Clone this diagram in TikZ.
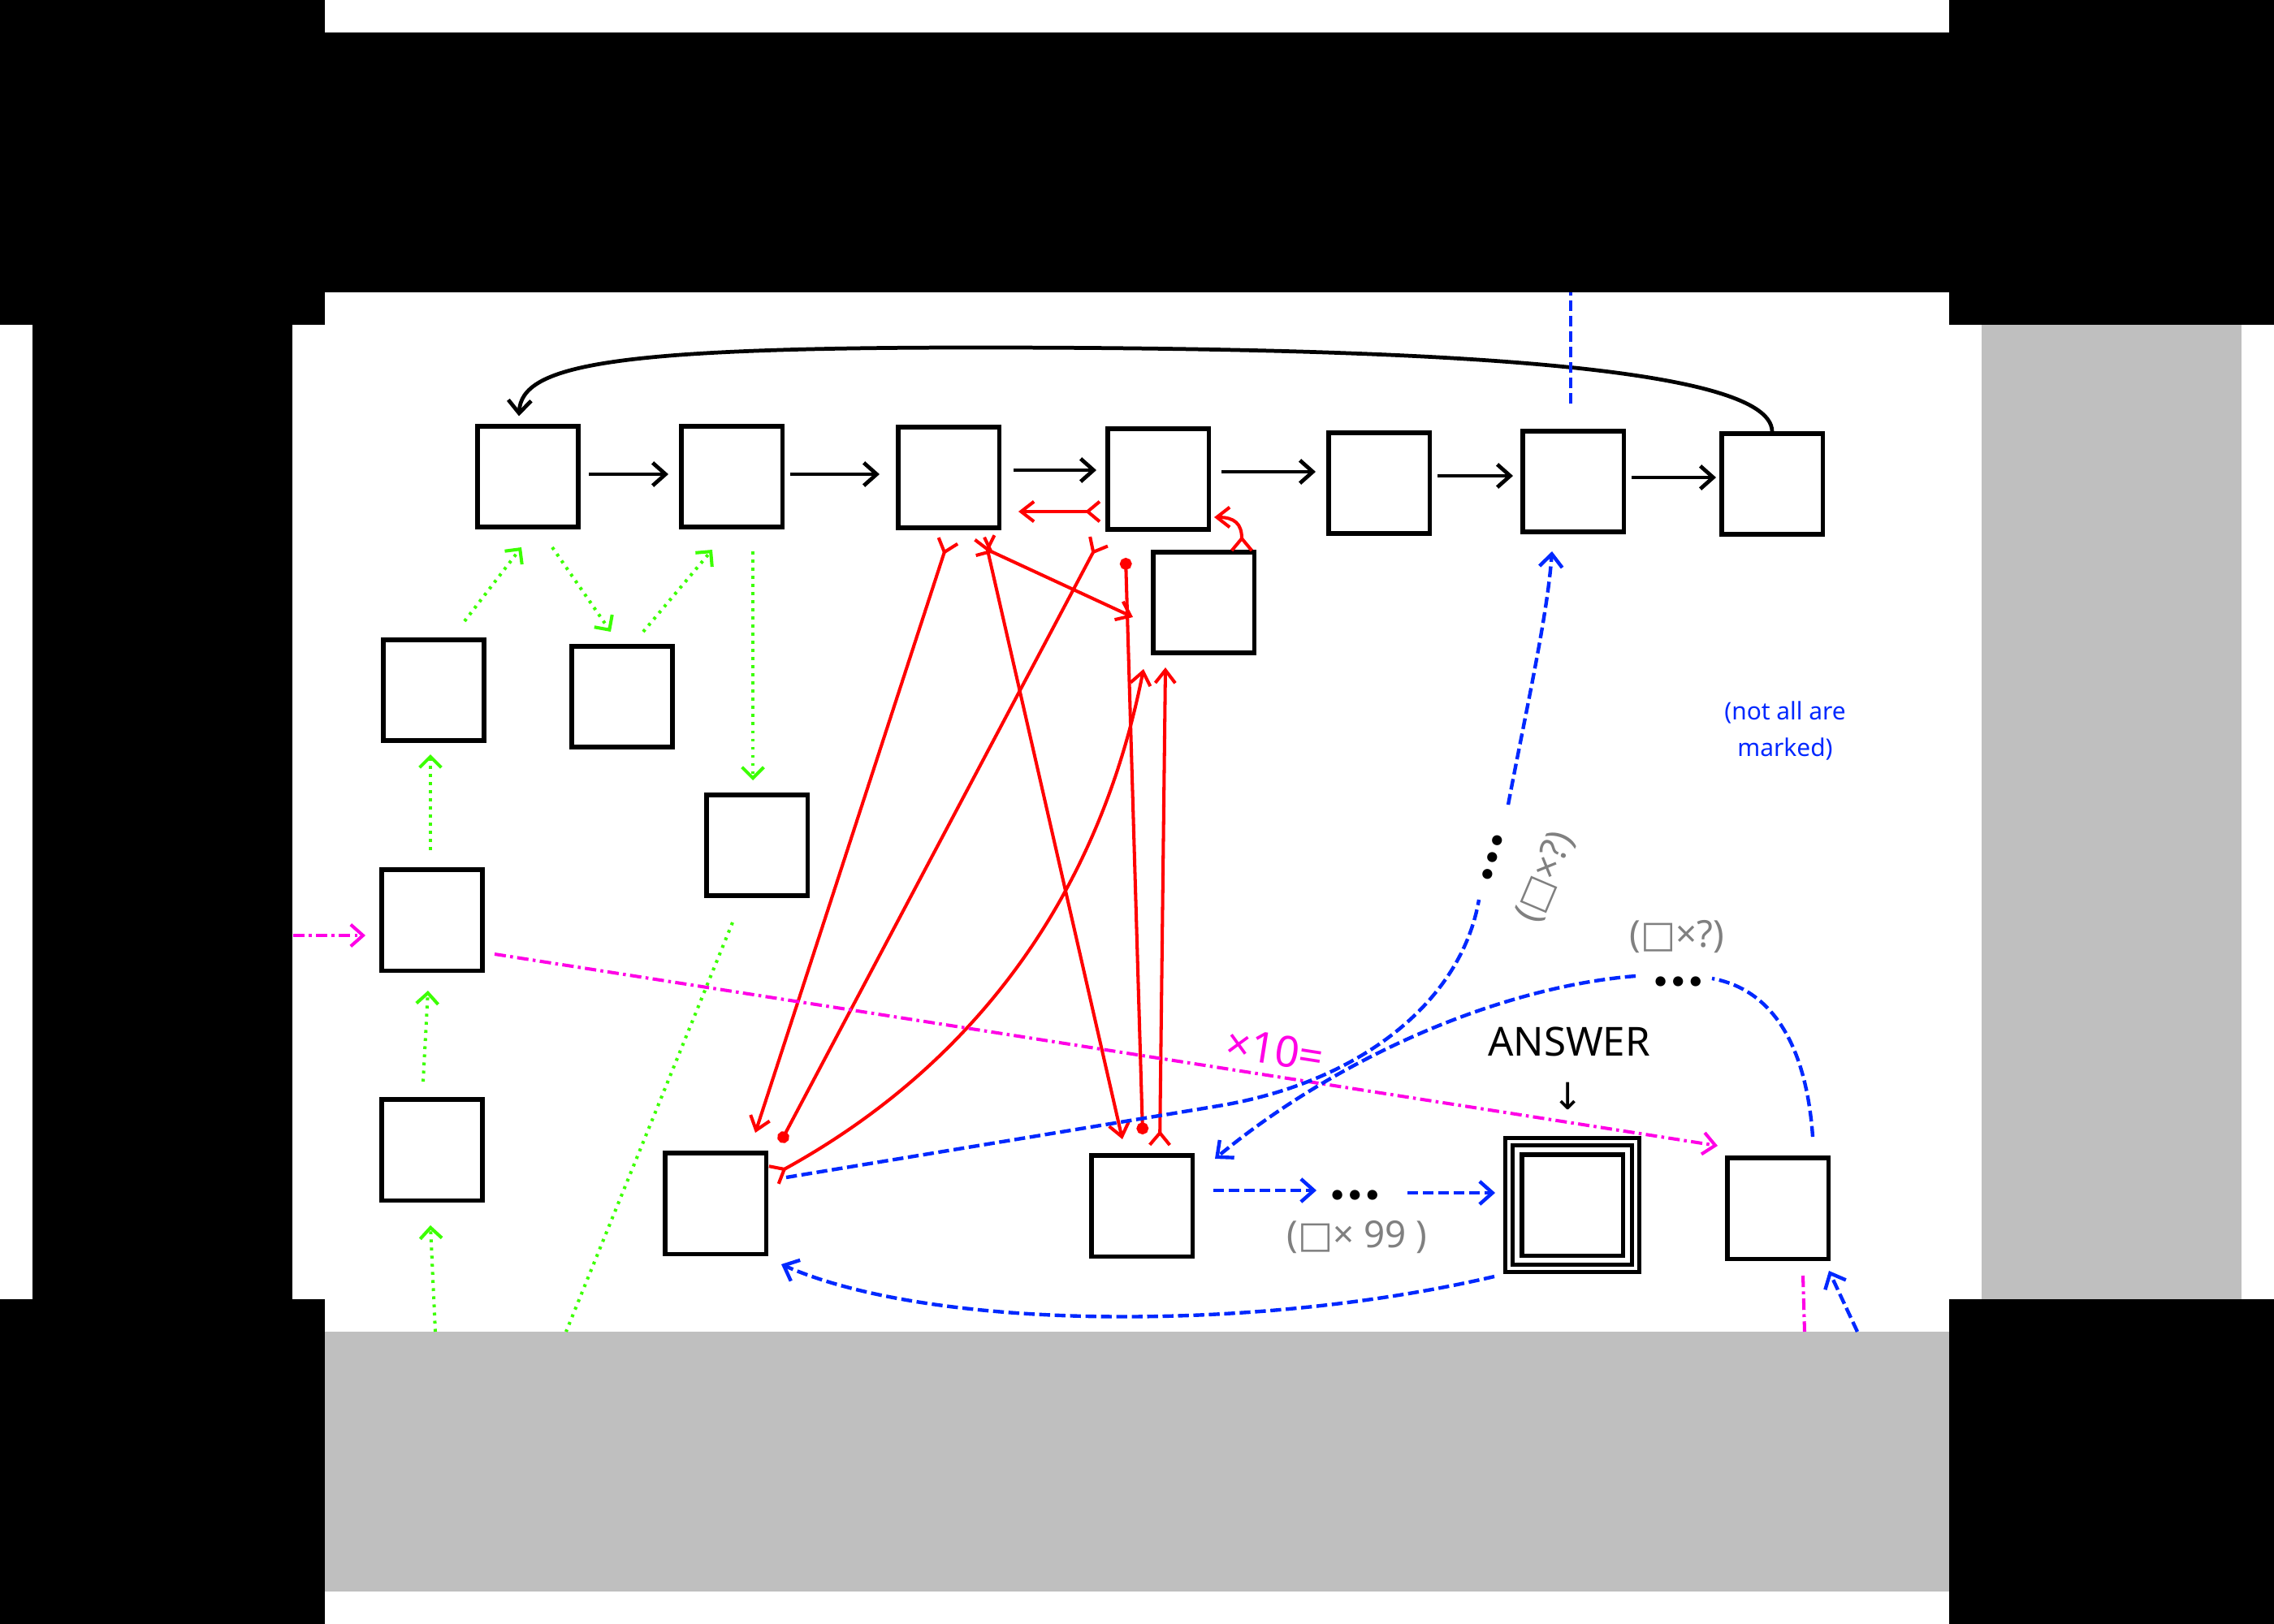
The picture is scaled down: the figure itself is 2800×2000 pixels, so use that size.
\documentclass[tikz,border=0pt]{standalone}
\usepackage{fontspec}
\setmainfont{Noto Sans}
\newfontfamily\djv{DejaVu Sans}
\newfontfamily\latof{Lato}
\usetikzlibrary{arrows.meta,calc}
\definecolor{bgray}{RGB}{191,191,191}
\definecolor{rred}{RGB}{255,0,0}
\definecolor{bblue}{RGB}{0,40,255}
\definecolor{mmag}{RGB}{255,0,230}
\definecolor{ggreen}{RGB}{60,255,0}
\definecolor{lgray}{RGB}{128,128,128}
\begin{document}
\begin{tikzpicture}[x=0.01cm,y=-0.01cm,
  box/.style={draw=black,line width=1.45pt,minimum size=1.24cm,inner sep=0pt},
  blk/.style={draw=black,line width=1.35pt,-{Straight Barb[length=4.5pt,width=8pt]}},
  redl/.style={draw=rred,line width=1.15pt},
  rtt/.style={{Straight Barb[reversed,length=4.2pt,width=7pt]}-{Straight Barb[length=4.5pt,width=7pt]}},
  rtd/.style={{Straight Barb[reversed,length=4.2pt,width=7pt]}-{Circle[length=4.2pt]}},
  rdd/.style={{Circle[length=4.2pt]}-{Circle[length=4.2pt]}},
  gl/.style={draw=ggreen,line width=1.15pt,dash pattern=on 1pt off 1.85pt,-{Straight Barb[length=3.8pt,width=7.6pt]}},
  bl/.style={draw=bblue,line width=1.25pt,dash pattern=on 3.8pt off 1.6pt},
  btip/.style={-{Straight Barb[length=4.5pt,width=8pt]}},
  ml/.style={draw=mmag,line width=1.15pt,dash pattern=on 4pt off 1.5pt on 1pt off 1.5pt},
  mtip/.style={-{Straight Barb[length=4.3pt,width=7.6pt]}},
  lbl/.style={font=\fontsize{13}{15}\selectfont,text=lgray,inner sep=0pt},
  dotsty/.style={font=\latof\bfseries\fontsize{23}{23}\selectfont,inner sep=0pt}
]
\useasboundingbox (0,0) rectangle (2800,2000);
% background
\fill[black] (0,0) rectangle (2800,2000);
\fill[white] (400,0) rectangle (2400,40);
\fill[white] (0,400) rectangle (40,1600);
\fill[white] (400,360) rectangle (2400,1640);
\fill[white] (360,400) rectangle (2440,1600);
\fill[bgray] (400,1640) rectangle (2400,1960);
\fill[white] (400,1960) rectangle (2400,2000);
\fill[bgray] (2440,400) rectangle (2760,1600);
\fill[white] (2760,400) rectangle (2800,1600);

% boxes
\node[box] (A1) at (650,587) {};
\node[box] (A2) at (901,587) {};
\node[box] (A3) at (1168,588) {};
\node[box] (A4) at (1426,590) {};
\node[box] (B)  at (1482,742) {};
\node[box] (A5) at (1698,595) {};
\node[box] (A6) at (1937,593) {};
\node[box] (A7) at (2182,596) {};
\node[box] (C1) at (534,850) {};
\node[box] (C2) at (766,858) {};
\node[box] (C3) at (932,1041) {};
\node[box] (C4) at (532,1133) {};
\node[box] (C5) at (532,1416) {};
\node[box] (D1) at (881,1482) {};
\node[box] (D2) at (1406,1485) {};
\node[box] (ANS) at (1936,1484) {};
\node[box] (E)  at (2189,1488) {};
\draw[line width=1.45pt] ($(ANS.north west)+(-9,-9)$) rectangle ($(ANS.south east)+(9,9)$);
\draw[line width=1.45pt] ($(ANS.north west)+(-18,-18)$) rectangle ($(ANS.south east)+(18,18)$);

% free ends
\coordinate (btop) at (1934,360);
\coordinate (gbot) at (536,1640);
\coordinate (gbotb) at (697,1640);
\coordinate (mleft) at (361,1152);
\coordinate (mbot) at (2222,1640);
\coordinate (bbot) at (2287,1640);

% texts
\node[font=\fontsize{14}{16}\selectfont,inner sep=0pt] (ansl) at (1932,1283) {ANSWER};
\node[font=\djv\fontsize{13}{15}\selectfont,inner sep=0pt] (ansd) at (1931,1350) {↓};
\node[font=\fontsize{15}{17}\selectfont,text=mmag,rotate=-9,inner sep=0pt] (x10) at (1570,1293) {×10=};
\node[lbl] (n99) at (1671,1524) {({\djv □}× 99 )};
\node[lbl] (qxa) at (2065,1154) {({\djv □}×?)};
\node[lbl,rotate=67] (qxb) at (1903,1080) {({\djv □}×?)};
\node[font=\fontsize{8.5}{12.8}\selectfont,text=bblue,align=center,inner sep=0pt] (note) at (2198,900) {(not all are\\marked)};
\node[dotsty] (dA) at (1669,1472) {…};
\node[dotsty] (dB) at (2067,1209) {…};
\node[dotsty,rotate=74] (dC) at (1838,1056) {…};

% black arrows
\draw[blk] ($(A1)+(75,-3)$) -- ($(A2)+(-78,-3)$);
\draw[blk] ($(A2)+(72,-3)$) -- ($(A3)+(-85,-4)$);
\draw[blk] ($(A3)+(80,-9)$) -- ($(A4)+(-76,-11)$);
\draw[blk] ($(A4)+(78,-9)$) -- ($(A5)+(-78,-14)$);
\draw[blk] ($(A5)+(72,-9)$) -- ($(A6)+(-74,-7)$);
\draw[blk] ($(A6)+(72,-5)$) -- ($(A7)+(-69,-8)$);
\draw[blk] (A7.north) .. controls (2181,445) and (1700,428) .. (1200,428)
   .. controls (750,428) and (642,450) .. ($(A1.north)+(-11,-10)$);

% red
\draw[redl,rtt] ($(A4)+(-70,40)$) -- ($(A3)+(86,42)$);
\draw[redl,rtt] ($(B)+(47,-62)$) .. controls (1529,645) and (1520,637) .. ($(A4)+(69,47)$);
\draw[redl,rtt] ($(A3)+(0,76)$) -- ($(D1)+(49,-87)$);
\draw[redl,rtt] ($(A3)+(37,84)$) -- ($(B)+(-87,18)$);
\draw[redl,rtt] ($(A3)+(44,72)$) -- ($(D2)+(-24,-82)$);
\draw[redl,rtd] ($(A4)+(-72,75)$) -- ($(D1)+(80,-75)$);
\draw[redl,rdd] ($(A4)+(-40,97)$) -- ($(D2)+(1,-88)$);
\draw[redl,rtt] ($(D2)+(22,-73)$) -- ($(B)+(-47,80)$);
\draw[redl,rtt] ($(D1)+(70,-34)$) .. controls (1200,1311) and (1353,1103) .. ($(B)+(-74,82)$);

% green
\draw[gl] ($(C1)+(38,-85)$) -- ($(A1)+(-8,87)$);
\draw[gl] ($(A1)+(30,87)$) -- ($(C2)+(-14,-80)$);
\draw[gl] ($(C2)+(26,-80)$) -- ($(A2)+(-24,90)$);
\draw[gl] ($(A2)+(26,92)$) -- ($(C3)+(-5,-80)$);
\draw[gl] ($(C4)+(-2,-86)$) -- ($(C1)+(-4,79)$);
\draw[gl] ($(C5)+(-11,-84)$) -- ($(C4)+(-5,87)$);
\draw[gl] (gbot) -- ($(C5)+(-2,93)$);
\draw[gl,-] ($(C3)+(-30,95)$) -- (gbotb);

% magenta
\draw[ml,mtip] (mleft) -- ($(C4)+(-82,19)$);
\draw[ml,mtip] ($(C4)+(77,42)$) -- ($(E)+(-74,-77)$);
\draw[ml] ($(E)+(31,83)$) -- (mbot);

% blue
\draw[bl] ($(A6)+(-3,-96)$) -- (btop);
\draw[bl] ($(D1)+(87,-32)$) -- (1500,1362) .. controls (1680,1332) and (1800,1230) .. ($(dC)+(-17,52)$);
\draw[bl,btip] ($(dC)+(19,-65)$) .. controls (1880,870) and (1905,760) .. ($(A6)+(-26,86)$);
\draw[bl] ($(E)+(43,-88)$) .. controls (2225,1300) and (2190,1220) .. ($(dB)+(41,-4)$);
\draw[bl,btip] ($(dB)+(-53,-7)$) .. controls (1850,1215) and (1650,1300) .. ($(D2)+(90,-58)$);
\draw[bl,btip] ($(D2)+(88,-19)$) -- ($(dA)+(-48,-6)$);
\draw[bl,btip] ($(dA)+(64,-3)$) -- ($(ANS)+(-95,-15)$);
\draw[bl,btip] ($(ANS)+(-96,88)$) .. controls (1550,1640) and (1150,1640) .. ($(D1)+(81,75)$);
\draw[bl,btip] (bbot) -- ($(E)+(63,77)$);
\end{tikzpicture}
\end{document}
